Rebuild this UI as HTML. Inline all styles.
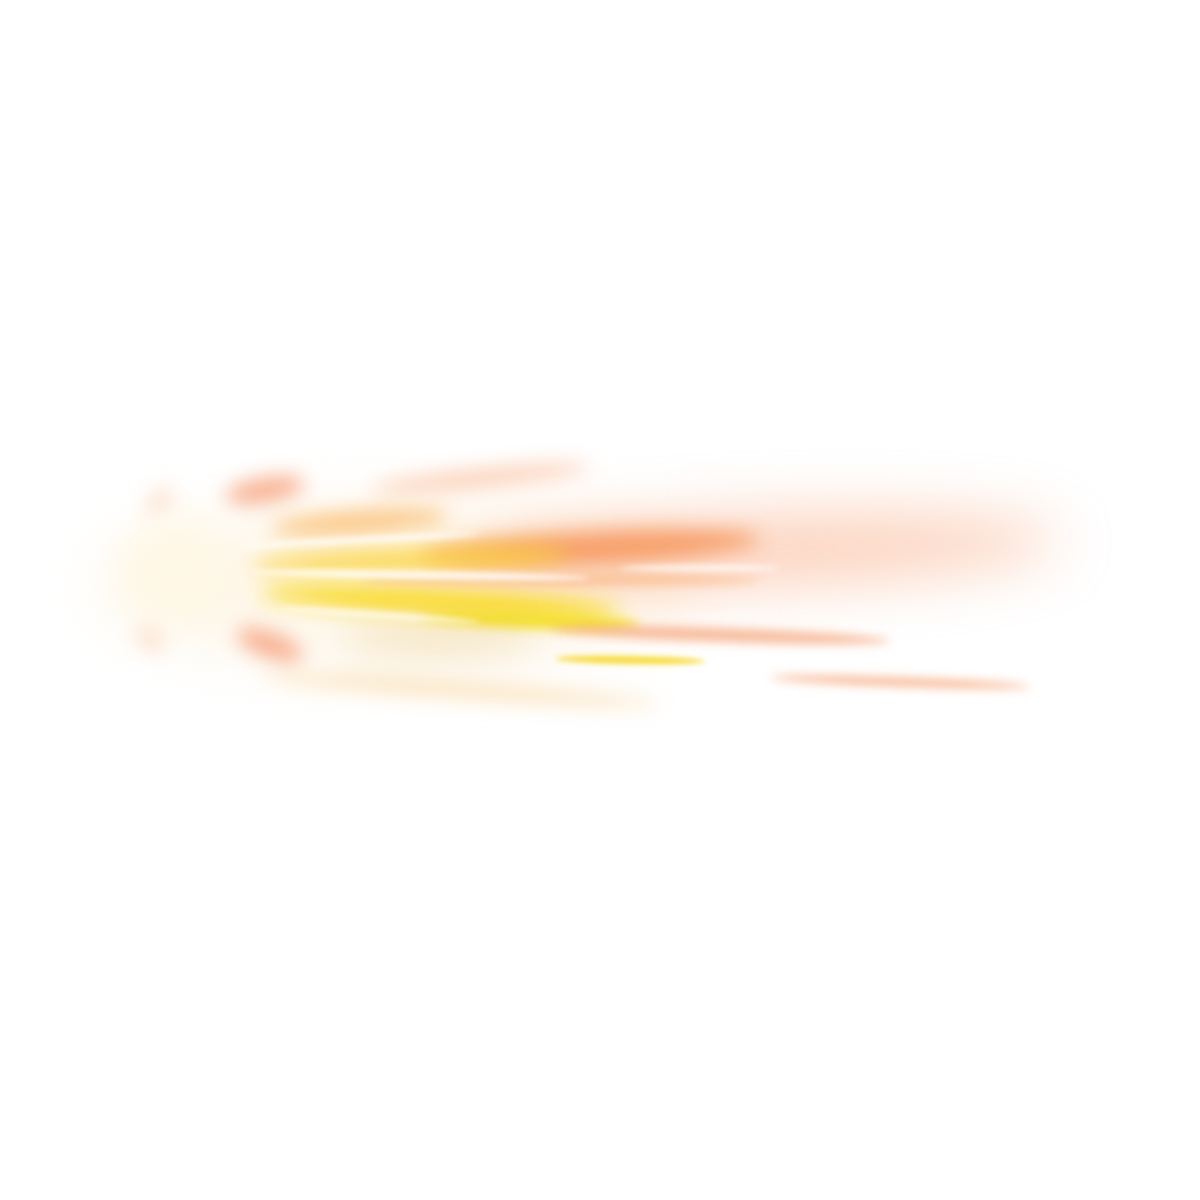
<!DOCTYPE html>
<html>
<head>
<meta charset="utf-8">
<style>
  html,body{margin:0;padding:0;background:#fff;width:1200px;height:1200px;overflow:hidden;}
  svg{display:block;}
</style>
</head>
<body>
<svg width="1200" height="1200" viewBox="0 0 1200 1200">
  <defs>
    <filter id="b30" x="-50%" y="-200%" width="200%" height="500%"><feGaussianBlur stdDeviation="30"/></filter>
    <filter id="b18" x="-50%" y="-200%" width="200%" height="500%"><feGaussianBlur stdDeviation="18"/></filter>
    <filter id="b10" x="-50%" y="-300%" width="200%" height="700%"><feGaussianBlur stdDeviation="10"/></filter>
    <filter id="b5" x="-50%" y="-400%" width="200%" height="900%"><feGaussianBlur stdDeviation="5"/></filter>
    <filter id="b3" x="-50%" y="-500%" width="200%" height="1100%"><feGaussianBlur stdDeviation="3"/></filter>
  </defs>
  <rect width="1200" height="1200" fill="#ffffff"/>
  <g>
    <ellipse cx="400" cy="585" rx="300" ry="80" fill="#fdf0d8" opacity="0.55" filter="url(#b30)"/>
    <!-- upper-right orange plume -->
    <ellipse cx="760" cy="550" rx="300" ry="34" fill="#f9b08a" opacity="0.6" filter="url(#b30)" transform="rotate(-2 760 550)"/>
    <ellipse cx="590" cy="548" rx="170" ry="16" fill="#f58a4a" opacity="0.75" filter="url(#b10)" transform="rotate(-3 590 548)"/>
    <!-- upper streaks -->
    <ellipse cx="480" cy="478" rx="110" ry="8" fill="#f7a070" opacity="0.55" filter="url(#b10)" transform="rotate(-6 480 478)"/>
    <ellipse cx="265" cy="490" rx="40" ry="12" fill="#f27a45" opacity="0.6" filter="url(#b10)" transform="rotate(-10 265 490)"/>
    <ellipse cx="360" cy="522" rx="90" ry="11" fill="#f9b35a" opacity="0.75" filter="url(#b10)" transform="rotate(-4 360 522)"/>
    <!-- yellow core -->
    <ellipse cx="410" cy="560" rx="160" ry="12" fill="#fbd23a" opacity="0.85" filter="url(#b10)" transform="rotate(-2 410 560)"/>
    <ellipse cx="440" cy="602" rx="180" ry="14" fill="#f9d81e" opacity="0.9" filter="url(#b10)" transform="rotate(3 440 602)"/>
    <ellipse cx="530" cy="620" rx="110" ry="8" fill="#f4e021" opacity="0.85" filter="url(#b5)" transform="rotate(2 530 620)"/>
    <ellipse cx="630" cy="660" rx="75" ry="4" fill="#f6d51c" opacity="0.85" filter="url(#b3)" transform="rotate(1 630 660)"/>
    <ellipse cx="560" cy="580" rx="200" ry="6" fill="#f9b07a" opacity="0.6" filter="url(#b5)"/>
    <!-- lower orange -->
    <ellipse cx="720" cy="635" rx="170" ry="7" fill="#f39a6a" opacity="0.65" filter="url(#b5)" transform="rotate(2 720 635)"/>
    <ellipse cx="900" cy="682" rx="130" ry="4" fill="#f4905a" opacity="0.7" filter="url(#b5)" transform="rotate(2 900 682)"/>
    <ellipse cx="270" cy="645" rx="35" ry="12" fill="#f2794a" opacity="0.6" filter="url(#b10)" transform="rotate(20 270 645)"/>
    <ellipse cx="460" cy="690" rx="200" ry="7" fill="#f6c270" opacity="0.5" filter="url(#b10)" transform="rotate(4 460 690)"/>
    <ellipse cx="440" cy="640" rx="100" ry="14" fill="#e0b860" opacity="0.35" filter="url(#b18)"/>
    <!-- origin -->
    <ellipse cx="175" cy="570" rx="55" ry="55" fill="#fff8e6" opacity="0.9" filter="url(#b18)"/>
    <ellipse cx="160" cy="500" rx="16" ry="8" fill="#f7b38a" opacity="0.45" filter="url(#b10)" transform="rotate(-40 160 500)"/>
    <ellipse cx="150" cy="640" rx="16" ry="8" fill="#f7b38a" opacity="0.45" filter="url(#b10)" transform="rotate(40 150 640)"/>
    <!-- white highlights -->
    <ellipse cx="420" cy="575" rx="170" ry="4" fill="#ffffff" opacity="0.85" filter="url(#b3)" transform="rotate(1 420 575)"/>
    <ellipse cx="360" cy="540" rx="120" ry="3" fill="#ffffff" opacity="0.8" filter="url(#b3)" transform="rotate(-3 360 540)"/>
    <ellipse cx="380" cy="615" rx="100" ry="3" fill="#ffffff" opacity="0.75" filter="url(#b3)" transform="rotate(4 380 615)"/>
    <ellipse cx="700" cy="568" rx="80" ry="3" fill="#ffffff" opacity="0.7" filter="url(#b3)"/>
  </g>
</svg>
</body>
</html>
